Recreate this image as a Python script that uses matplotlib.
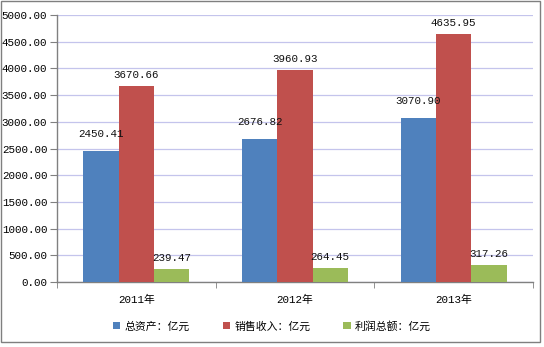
import matplotlib
matplotlib.use("Agg")
import matplotlib.pyplot as plt
import numpy as np
from matplotlib.patches import Rectangle
from matplotlib.ticker import FuncFormatter, MultipleLocator

plt.rcParams['font.family'] = ['Liberation Mono', 'Noto Sans CJK SC']

years = ['2011年', '2012年', '2013年']
series_names = ['总资产：亿元', '销售收入：亿元', '利润总额：亿元']
total_assets = [2450.41, 2676.82, 3070.90]
sales_revenue = [3670.66, 3960.93, 4635.95]
total_profit = [239.47, 264.45, 317.26]
colors = ['#4F81BD', '#C0504D', '#9BBB59']

fig = plt.figure(figsize=(5.44, 3.47), dpi=100)
ax = fig.add_axes([57 / 544, 1 - 282 / 347, (533 - 57) / 544, (282 - 15) / 347])

x = np.arange(len(years))
width = 0.222
series = [total_assets, sales_revenue, total_profit]
label_gap = [12, 6, 6]  # pixels between bar top and its value label
for i, (vals, name, c) in enumerate(zip(series, series_names, colors)):
    pos = x + (i - 1) * width
    ax.bar(pos, vals, width, color=c, label=name, zorder=3)
    for xp, v in zip(pos, vals):
        ax.annotate(f'{v:.2f}', (xp, v), xytext=(0, label_gap[i]),
                    textcoords='offset pixels', ha='center', va='bottom',
                    fontsize=7.8, color='#111111', zorder=4)

ax.set_xlim(-0.5, 2.5)
ax.set_ylim(0, 5000)
ax.yaxis.set_major_locator(MultipleLocator(500))
ax.yaxis.set_major_formatter(FuncFormatter(lambda v, p: f'{v:.2f}'))
ax.grid(axis='y', color='#C4C4EC', linewidth=0.9, zorder=0)

ax.set_xticks(x)
ax.set_xticklabels(years, fontsize=7.8)
ax.tick_params(axis='x', length=0, pad=9)
ax.set_xticks([-0.5, 0.5, 1.5, 2.5], minor=True)
ax.tick_params(axis='x', which='minor', length=4, color='#808080', direction='out')
ax.tick_params(axis='y', length=5, color='#808080', labelsize=7.8, pad=2)

for s in ['top', 'right']:
    ax.spines[s].set_visible(False)
for s in ['left', 'bottom']:
    ax.spines[s].set_color('#808080')
    ax.spines[s].set_linewidth(1.0)

fig.legend(loc='center', bbox_to_anchor=(0.5, 1 - 326 / 347), ncol=3,
           frameon=False, fontsize=7.8, handlelength=0.7, handleheight=0.7,
           handletextpad=0.4, columnspacing=3.0)

fig.patches.append(Rectangle((0.5 / 544, 1 - 342 / 347), 539 / 544, 341 / 347,
                             transform=fig.transFigure, fill=False,
                             edgecolor='#7F7F7F', linewidth=1.0))

fig.savefig('out.png', dpi=100, facecolor='white')
